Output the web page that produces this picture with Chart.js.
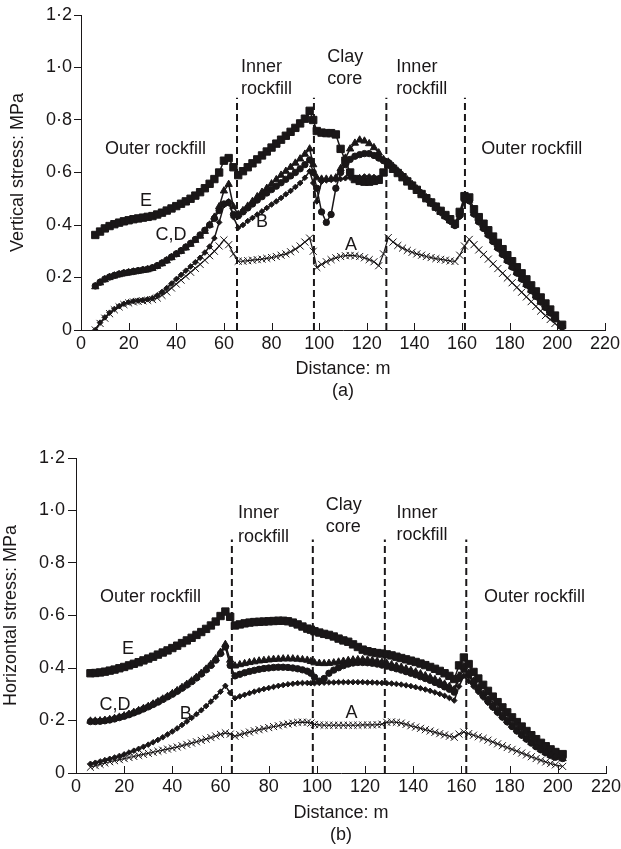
<!DOCTYPE html>
<html>
<head>
<meta charset="utf-8">
<script src="https://cdn.jsdelivr.net/npm/chart.js@4.4.1/dist/chart.umd.min.js"></script>
<style>
  body { margin: 0; background: #fff; }
  canvas { position: absolute; left: 0; }
</style>
</head>
<body>
<canvas id="vertChart" width="621" height="402" style="top:0px"></canvas>
<canvas id="horChart" width="621" height="447" style="top:402px"></canvas>
<script>
// node positions along the dam section (m)
const distance = [6,8,10,12,14,16,18,20,22,24,26,28,30,32,34,36,38,40,42,44,46,48,50,52,54,56,58,60,62,64,
  66,68,70,72,74,76,78,80,82,84,86,88,90,92,94,96,97.5,
  99,101,103,105,107,109,111,113,115,117,119,121,123,125,127,
  129,131,133,135,137,139,141,143,145,147,149,151,153,155,157,
  159,161,163,165,167,169,171,173,175,177,179,181,183,185,187,189,191,193,195,197,199,202];

// (a) vertical stress, MPa
const vertA = [0.00,0.025,0.045,0.062,0.077,0.088,0.097,0.103,0.107,0.109,0.111,0.113,0.116,0.122,0.132,0.145,0.16,0.175,0.19,0.205,0.22,0.235,0.25,0.266,0.283,0.30,0.32,0.343,0.325,0.29,
  0.262,0.262,0.264,0.266,0.268,0.27,0.273,0.276,0.28,0.285,0.29,0.298,0.308,0.32,0.335,0.35,0.30,
  0.238,0.25,0.26,0.268,0.275,0.28,0.283,0.284,0.283,0.28,0.275,0.268,0.26,0.245,0.29,
  0.352,0.335,0.322,0.312,0.303,0.296,0.29,0.285,0.28,0.276,0.272,0.269,0.266,0.263,0.261,
  0.285,0.32,0.345,0.325,0.305,0.288,0.27,0.252,0.234,0.216,0.198,0.18,0.162,0.144,0.126,0.108,0.09,0.072,0.055,0.04,0.025,0.005];
const vertB = [0.00,0.028,0.048,0.066,0.08,0.091,0.1,0.106,0.11,0.112,0.114,0.117,0.122,0.132,0.145,0.16,0.177,0.194,0.21,0.226,0.242,0.258,0.275,0.295,0.318,0.35,0.41,0.475,0.49,0.43,
  0.39,0.40,0.415,0.427,0.44,0.452,0.465,0.478,0.49,0.503,0.517,0.53,0.545,0.56,0.58,0.605,0.56,
  0.49,0.565,0.57,0.572,0.573,0.575,0.578,0.58,0.58,0.582,0.585,0.585,0.583,0.58,0.6,
  0.63,0.615,0.598,0.581,0.564,0.547,0.53,0.513,0.496,0.479,0.462,0.445,0.428,0.411,0.395,
  0.43,0.495,0.49,0.44,0.41,0.385,0.36,0.335,0.31,0.285,0.262,0.238,0.215,0.192,0.17,0.148,0.126,0.105,0.084,0.063,0.043,0.012];
const vertC = [0.165,0.18,0.192,0.2,0.206,0.211,0.215,0.218,0.221,0.224,0.227,0.23,0.235,0.243,0.253,0.264,0.276,0.288,0.3,0.313,0.327,0.342,0.358,0.376,0.4,0.43,0.47,0.53,0.555,0.47,
  0.44,0.455,0.472,0.49,0.508,0.525,0.54,0.557,0.573,0.59,0.605,0.62,0.636,0.652,0.67,0.69,0.63,
  0.58,0.575,0.575,0.576,0.58,0.615,0.655,0.69,0.712,0.724,0.72,0.71,0.695,0.675,0.65,
  0.64,0.624,0.606,0.589,0.572,0.555,0.538,0.521,0.504,0.487,0.47,0.453,0.436,0.419,0.4,
  0.44,0.5,0.495,0.445,0.415,0.39,0.365,0.34,0.315,0.29,0.266,0.242,0.219,0.196,0.174,0.152,0.13,0.108,0.087,0.066,0.045,0.013];
const vertD = [0.168,0.182,0.194,0.202,0.208,0.213,0.217,0.22,0.223,0.226,0.229,0.232,0.237,0.245,0.255,0.266,0.278,0.29,0.302,0.316,0.33,0.345,0.362,0.38,0.4,0.425,0.455,0.48,0.485,0.44,
  0.435,0.45,0.465,0.48,0.495,0.508,0.522,0.535,0.548,0.561,0.574,0.587,0.6,0.614,0.63,0.648,0.6,
  0.54,0.45,0.41,0.44,0.54,0.6,0.63,0.65,0.662,0.668,0.672,0.672,0.665,0.655,0.645,
  0.638,0.62,0.603,0.586,0.569,0.552,0.535,0.518,0.501,0.484,0.467,0.45,0.433,0.416,0.398,
  0.436,0.497,0.492,0.442,0.412,0.387,0.362,0.337,0.312,0.288,0.264,0.24,0.217,0.194,0.172,0.15,0.128,0.107,0.086,0.065,0.044,0.012];
const vertE = [0.362,0.375,0.387,0.396,0.403,0.409,0.414,0.418,0.422,0.425,0.428,0.431,0.434,0.44,0.447,0.455,0.463,0.472,0.481,0.49,0.5,0.512,0.525,0.54,0.557,0.575,0.6,0.645,0.655,0.62,
  0.59,0.605,0.62,0.635,0.65,0.665,0.68,0.695,0.71,0.725,0.74,0.755,0.77,0.787,0.805,0.835,0.8,
  0.758,0.752,0.75,0.75,0.745,0.69,0.645,0.6,0.575,0.568,0.565,0.565,0.568,0.572,0.6,
  0.63,0.614,0.598,0.582,0.566,0.55,0.534,0.518,0.502,0.486,0.47,0.454,0.438,0.422,0.405,
  0.45,0.51,0.505,0.46,0.43,0.405,0.38,0.356,0.332,0.308,0.285,0.262,0.239,0.216,0.193,0.17,0.147,0.124,0.101,0.078,0.055,0.02];

// (b) horizontal stress, MPa
const horA = [0.022,0.028,0.033,0.038,0.043,0.047,0.051,0.055,0.059,0.063,0.067,0.071,0.075,0.079,0.083,0.087,0.091,0.095,0.099,0.104,0.109,0.114,0.119,0.124,0.129,0.135,0.141,0.147,0.153,0.148,
  0.14,0.146,0.151,0.156,0.161,0.165,0.169,0.173,0.177,0.18,0.184,0.187,0.19,0.193,0.194,0.193,0.19,
  0.185,0.183,0.182,0.182,0.182,0.182,0.182,0.182,0.182,0.182,0.183,0.183,0.183,0.184,0.186,
  0.193,0.195,0.193,0.19,0.185,0.18,0.175,0.17,0.165,0.16,0.155,0.15,0.145,0.14,0.136,
  0.148,0.156,0.15,0.144,0.138,0.132,0.125,0.118,0.111,0.104,0.097,0.09,0.083,0.076,0.069,0.062,0.055,0.048,0.042,0.036,0.031,0.025];
const horB = [0.035,0.039,0.044,0.049,0.054,0.059,0.065,0.071,0.078,0.085,0.092,0.1,0.108,0.117,0.126,0.136,0.147,0.158,0.17,0.183,0.196,0.21,0.224,0.239,0.255,0.272,0.29,0.31,0.332,0.305,
  0.285,0.292,0.298,0.304,0.31,0.315,0.32,0.324,0.328,0.332,0.335,0.338,0.34,0.342,0.343,0.343,0.342,
  0.342,0.343,0.344,0.345,0.345,0.346,0.346,0.346,0.346,0.346,0.346,0.345,0.345,0.344,0.343,
  0.342,0.341,0.339,0.337,0.334,0.331,0.327,0.323,0.318,0.313,0.307,0.301,0.294,0.286,0.276,
  0.33,0.37,0.35,0.33,0.308,0.287,0.267,0.247,0.228,0.21,0.192,0.175,0.158,0.142,0.127,0.113,0.1,0.088,0.078,0.07,0.064,0.06];
const horC = [0.198,0.198,0.199,0.201,0.204,0.208,0.213,0.218,0.224,0.231,0.238,0.246,0.254,0.263,0.272,0.282,0.292,0.303,0.314,0.326,0.338,0.351,0.365,0.38,0.396,0.414,0.435,0.46,0.49,0.43,
  0.408,0.413,0.417,0.421,0.424,0.427,0.429,0.431,0.433,0.434,0.435,0.435,0.435,0.434,0.432,0.43,0.425,
  0.42,0.418,0.417,0.418,0.42,0.423,0.426,0.429,0.431,0.432,0.432,0.431,0.429,0.426,0.422,
  0.418,0.413,0.408,0.403,0.397,0.391,0.385,0.378,0.371,0.364,0.356,0.348,0.339,0.33,0.318,
  0.37,0.405,0.38,0.35,0.325,0.301,0.279,0.258,0.238,0.219,0.2,0.182,0.165,0.148,0.132,0.117,0.103,0.09,0.078,0.068,0.06,0.055];
const horD = [0.196,0.196,0.197,0.199,0.202,0.206,0.211,0.216,0.222,0.229,0.236,0.244,0.252,0.261,0.27,0.28,0.29,0.3,0.311,0.323,0.335,0.348,0.362,0.377,0.393,0.41,0.43,0.455,0.48,0.41,
  0.37,0.376,0.382,0.387,0.391,0.395,0.398,0.4,0.402,0.403,0.403,0.402,0.4,0.397,0.393,0.388,0.38,
  0.365,0.35,0.36,0.38,0.392,0.401,0.409,0.415,0.419,0.421,0.421,0.42,0.418,0.415,0.411,
  0.407,0.402,0.397,0.392,0.386,0.38,0.374,0.367,0.36,0.353,0.345,0.337,0.328,0.319,0.308,
  0.36,0.395,0.372,0.343,0.318,0.295,0.273,0.252,0.232,0.213,0.195,0.177,0.16,0.144,0.129,0.114,0.1,0.088,0.077,0.067,0.06,0.055];
const horE = [0.38,0.381,0.383,0.386,0.39,0.394,0.399,0.404,0.41,0.416,0.422,0.429,0.436,0.443,0.451,0.459,0.467,0.476,0.485,0.495,0.505,0.515,0.526,0.537,0.549,0.562,0.577,0.598,0.615,0.595,
  0.562,0.566,0.57,0.573,0.575,0.576,0.577,0.578,0.579,0.58,0.58,0.578,0.573,0.566,0.558,0.55,0.546,
  0.54,0.535,0.53,0.526,0.52,0.512,0.505,0.5,0.49,0.48,0.47,0.464,0.46,0.457,0.455,
  0.452,0.448,0.443,0.438,0.433,0.428,0.423,0.417,0.411,0.404,0.397,0.389,0.38,0.37,0.358,
  0.41,0.44,0.415,0.385,0.36,0.336,0.313,0.291,0.27,0.25,0.231,0.212,0.194,0.177,0.16,0.144,0.129,0.115,0.102,0.09,0.08,0.072];

// zone boundaries (dashed) and their top
const vertBoundaries = [65.5, 97.8, 128.2, 161.2];
const horBoundaries = [64.7, 98.3, 128.2, 162];
const vertDashTop = 0.885;
const horDashTop = 0.89;

const xTickValues = [0, 20, 40, 60, 80, 100, 120, 140, 160, 180, 200, 220];
const yTickValues = [0, 0.2, 0.4, 0.6, 0.8, 1.0, 1.2];
const yTickLabels = ['0', '0\u00b72', '0\u00b74', '0\u00b76', '0\u00b78', '1\u00b70', '1\u00b72'];

const ink = '#1a1718';
const fontFamily = '"Liberation Sans", Arial, Helvetica, sans-serif';
Chart.defaults.font.family = fontFamily;
Chart.defaults.font.size = 18;
Chart.defaults.color = ink;

const markers = {
  A: { pointStyle: 'crossRot', pointRadius: 5, borderWidth: 1.2, pointBorderWidth: 1 },
  B: { pointStyle: 'rectRot', pointRadius: 2.8, borderWidth: 1.5, pointBorderWidth: 1 },
  C: { pointStyle: 'triangle', pointRadius: 4.2, borderWidth: 1.5, pointBorderWidth: 1 },
  D: { pointStyle: 'circle', pointRadius: 3.2, borderWidth: 1.5, pointBorderWidth: 1 },
  E: { pointStyle: 'rect', pointRadius: 5.2, borderWidth: 1.5, pointBorderWidth: 1 }
};

const decorPlugin = {
  id: 'decor',
  afterDatasetsDraw(chart, args, opts) {
    const { ctx } = chart;
    const xs = chart.scales.x, ys = chart.scales.y;
    ctx.save();
    // x ticks point into the plot
    ctx.strokeStyle = ink;
    ctx.lineWidth = 1;
    xs.ticks.forEach(t => {
      const px = Math.round(xs.getPixelForValue(t.value)) + 0.5;
      ctx.beginPath();
      ctx.moveTo(px, ys.bottom);
      ctx.lineTo(px, ys.bottom - 7);
      ctx.stroke();
    });
    ctx.fillStyle = ink;
    ctx.font = '18px ' + fontFamily;
    ctx.textBaseline = 'middle';
    (opts.labels || []).forEach(l => {
      ctx.textAlign = l.align || 'left';
      ctx.fillText(l.text, xs.getPixelForValue(l.x), ys.getPixelForValue(l.y));
    });
    ctx.restore();
  }
};

function buildChart(id, yTitle, subTitle, series, boundaries, dashTop, labels, geom) {
  const datasets = [];
  Object.keys(series).forEach(key => {
    datasets.push(Object.assign({
      label: key,
      data: distance.map((d, i) => ({ x: d, y: series[key][i] })),
      borderColor: ink,
      pointBackgroundColor: ink,
      pointBorderColor: ink,
      tension: 0
    }, markers[key]));
  });
  boundaries.forEach(b => {
    datasets.push({
      label: 'boundary',
      data: [{ x: b, y: 0 }, { x: b, y: dashTop }],
      borderColor: ink,
      borderWidth: 2,
      borderDash: [7, 4],
      pointRadius: 0
    });
  });

  new Chart(document.getElementById(id), {
    type: 'line',
    data: { datasets: datasets },
    options: {
      responsive: false,
      animation: false,
      events: [],
      layout: { padding: geom.padding },
      plugins: {
        legend: { display: false },
        tooltip: { enabled: false },
        decor: { labels: labels }
      },
      scales: {
        x: {
          type: 'linear', min: 0, max: 220,
          afterBuildTicks: s => { s.ticks = xTickValues.map(v => ({ value: v })); },
          afterFit: s => { s.height = geom.xHeight; s.paddingLeft = 0; s.paddingRight = 0; },
          ticks: { padding: 3, maxRotation: 0, autoSkip: false, color: ink },
          grid: { display: false, drawTicks: false },
          border: { display: true, color: ink, width: 1 },
          title: {
            display: true, text: ['Distance: m', subTitle], color: ink,
            font: { size: 18, lineHeight: 22 / 18 }, padding: { top: 0, bottom: 0 }
          }
        },
        y: {
          min: 0, max: 1.2,
          afterBuildTicks: s => { s.ticks = yTickValues.map(v => ({ value: v })); },
          afterFit: s => { s.width = geom.plotLeft; s.paddingTop = 0; s.paddingBottom = 0; },
          ticks: { padding: geom.yTickPad, color: ink, callback: (v, i) => yTickLabels[i] },
          grid: { display: true, drawOnChartArea: false, drawTicks: true, tickLength: geom.yTickLength, color: ink },
          border: { display: true, color: ink, width: 1 },
          title: {
            display: true, text: yTitle, color: ink,
            font: { size: 18, lineHeight: 22 / 18 }, padding: { top: geom.yTitlePad, bottom: 0 }
          }
        }
      }
    },
    plugins: [decorPlugin]
  });
}

buildChart('vertChart', 'Vertical stress: MPa', '(a)',
  { A: vertA, B: vertB, C: vertC, D: vertD, E: vertE },
  vertBoundaries, vertDashTop,
  [
    { text: 'Outer rockfill', x: 10.1, y: 0.69 },
    { text: 'Inner', x: 67.2, y: 1.0 },
    { text: 'rockfill', x: 67.2, y: 0.918 },
    { text: 'Clay', x: 103.4, y: 1.04 },
    { text: 'core', x: 103.4, y: 0.956 },
    { text: 'Inner', x: 132.4, y: 1.0 },
    { text: 'rockfill', x: 132.4, y: 0.918 },
    { text: 'Outer rockfill', x: 168, y: 0.69 },
    { text: 'E', x: 27.3, y: 0.49, align: 'center' },
    { text: 'C,D', x: 37.8, y: 0.362, align: 'center' },
    { text: 'B', x: 76, y: 0.41, align: 'center' },
    { text: 'A', x: 113.4, y: 0.324, align: 'center' }
  ],
  { padding: { left: 0, right: 16, top: 15, bottom: 0 }, plotLeft: 81, xHeight: 72, yTickLength: 7, yTickPad: 2, yTitlePad: 7 });

buildChart('horChart', 'Horizontal stress: MPa', '(b)',
  { A: horA, B: horB, C: horC, D: horD, E: horE },
  horBoundaries, horDashTop,
  [
    { text: 'Outer rockfill', x: 10, y: 0.67 },
    { text: 'Inner', x: 67.2, y: 0.99 },
    { text: 'rockfill', x: 67.2, y: 0.9 },
    { text: 'Clay', x: 103.7, y: 1.02 },
    { text: 'core', x: 103.7, y: 0.937 },
    { text: 'Inner', x: 133, y: 0.99 },
    { text: 'rockfill', x: 133, y: 0.907 },
    { text: 'Outer rockfill', x: 169.4, y: 0.67 },
    { text: 'E', x: 21.6, y: 0.472, align: 'center' },
    { text: 'C,D', x: 16.2, y: 0.259, align: 'center' },
    { text: 'B', x: 45.6, y: 0.225, align: 'center' },
    { text: 'A', x: 114.4, y: 0.228, align: 'center' }
  ],
  { padding: { left: 0, right: 15, top: 56, bottom: 3 }, plotLeft: 76, xHeight: 73, yTickLength: 8, yTickPad: 3, yTitlePad: 0 });
</script>
</body>
</html>
